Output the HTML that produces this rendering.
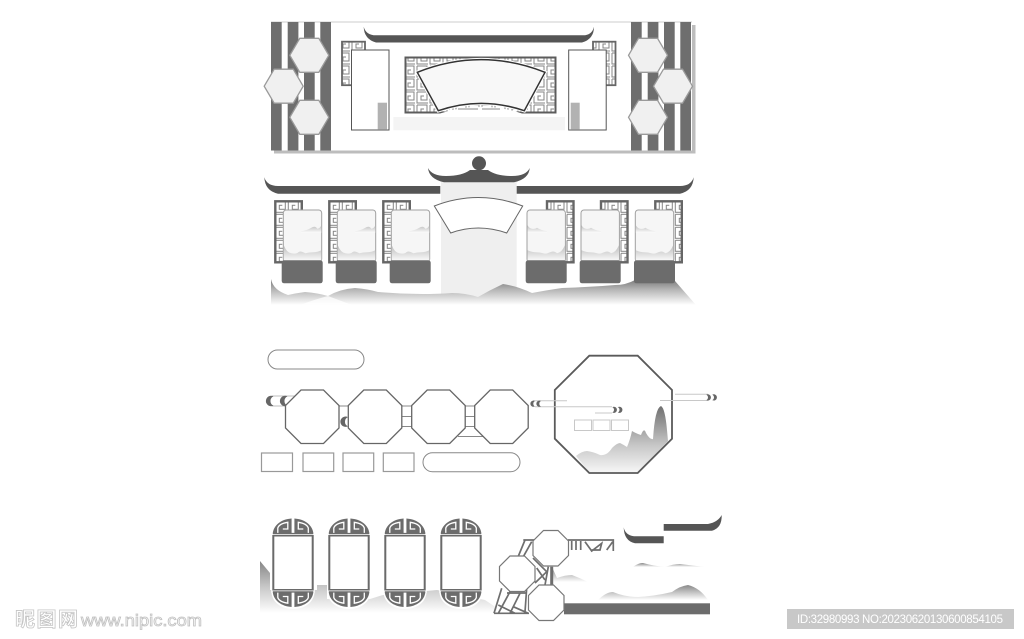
<!DOCTYPE html>
<html><head><meta charset="utf-8"><style>
html,body{margin:0;padding:0;background:#fff;width:1024px;height:639px;overflow:hidden}
svg{display:block}
</style></head><body>
<svg width="1024" height="639" viewBox="0 0 1024 639" xmlns="http://www.w3.org/2000/svg">
<defs>
<linearGradient id="m" x1="0" y1="0" x2="0" y2="1"><stop offset="0" stop-color="#777"/><stop offset=".4" stop-color="#b4b4b4"/><stop offset="1" stop-color="#fff"/></linearGradient>
<linearGradient id="m2" x1="0" y1="0" x2="0" y2="1"><stop offset="0" stop-color="#868686"/><stop offset=".5" stop-color="#c8c8c8"/><stop offset="1" stop-color="#fff"/></linearGradient>
<linearGradient id="m3" x1="0" y1="0" x2="0" y2="1"><stop offset="0" stop-color="#888"/><stop offset="1" stop-color="#fff"/></linearGradient>
<linearGradient id="peak" x1="0" y1="0" x2="0" y2="1"><stop offset="0" stop-color="#707070"/><stop offset=".6" stop-color="#c8c8c8"/><stop offset="1" stop-color="#f6f6f6"/></linearGradient>
<linearGradient id="snow" x1="0" y1="0" x2="0" y2="1"><stop offset="0" stop-color="#bcbcbc"/><stop offset="1" stop-color="#fcfcfc"/></linearGradient>
<pattern id="lat" width="13" height="13" patternUnits="userSpaceOnUse">
<rect width="13" height="13" fill="#fff"/>
<path d="M1 1H11V9H5V5H8M1 1V12H12" fill="none" stroke="#858585" stroke-width="1"/>
</pattern>
<polygon id="hex" points="-19.500,0 -9.500,-17 9.500,-17 19.500,0 9.500,17 -9.500,17" fill="#f0f0f0" stroke="#9a9a9a" stroke-width="1.300"/>
<g id="card">
<rect x="1" y="1" width="26.500" height="61" fill="url(#lat)" stroke="#666" stroke-width="2.400"/>
<rect x="9" y="9.700" width="38.400" height="52" rx="3" fill="#f6f6f6" stroke="#a0a0a0" stroke-width="1"/>
<path d="M27 31Q33 30 37 27.500T43 28.500Q46 28 47 25V32.500H27z" fill="url(#snow)"/>
<path d="M9.500 45Q12 52 17 53T24 52T31 53Q35 52 39 52T47 50V61H9.500z" fill="url(#snow)"/>
<rect x="7.400" y="60" width="41" height="23" rx="2.500" fill="#6c6c6c"/>
</g>
<g id="card2">
<rect x="20" y="1" width="26.500" height="61" fill="url(#lat)" stroke="#666" stroke-width="2.400"/>
<rect x="0" y="9.700" width="38.400" height="52" rx="3" fill="#f6f6f6" stroke="#a0a0a0" stroke-width="1"/>
<path d="M.5 25Q2 28 5 28.500T10 27.500Q14 30 20 31V32.500H.5z" fill="url(#snow)"/>
<path d="M.5 50Q5 52 9 52T16 53T23 52T30 53Q35 52 37.900 45V61H.5z" fill="url(#snow)"/>
<rect x="-1.300" y="60" width="41" height="23" rx="2.500" fill="#6c6c6c"/>
</g>
<polygon id="oct" points="15.500,0 38,0 53.500,15.500 53.500,38 38,53.500 15.500,53.500 0,38 0,15.500" fill="#fff" stroke="#666" stroke-width="1.300"/>
<polygon id="oct2" points="10.500,0 25,0 35.500,10.500 35.500,25 25,35.500 10.500,35.500 0,25 0,10.500" fill="#fff" stroke="#777" stroke-width="1.200"/>
<g id="cap">
<path d="M-1 17C-1 6 8 -1.500 20.700 -1.500S42.400 6 42.400 17z" fill="#fff"/>
<path d="M.5 15C1.500 7 9 1.200 19.300 .5V15z" fill="#6c6c6c"/>
<path d="M41 15C40 7 32.500 1.200 22.100 .5V15z" fill="#6c6c6c"/>
<path d="M5.500 15V10Q7 5.500 15.500 4.300V11H10.500" fill="none" stroke="#fff" stroke-width="1.300"/>
<path d="M36 15V10Q34.500 5.500 26 4.300V11H31" fill="none" stroke="#fff" stroke-width="1.300"/>
<path d="M.5 15.600H41" stroke="#6c6c6c" stroke-width="1.400"/>
</g>
<g id="arch">
<rect x="-1" y="15" width="43.400" height="60" fill="#fff"/>
<rect x="1" y="17.500" width="39.400" height="54.500" fill="#fff" stroke="#6a6a6a" stroke-width="2"/>
<use href="#cap"/>
<use href="#cap" transform="translate(0 89.500) scale(1 -1)"/>
</g>
<path id="cr" d="M3 .4A3.100 3.100 0 1 0 3 5.800A3 3 0 0 1 3 .4z" fill="#666"/>
<path id="crR" d="M.3 .4A3.100 3.100 0 1 1 .3 5.800A3 3 0 0 0 .3 .4z" fill="#666"/>
<path id="crB" d="M6 .6A5.200 5.200 0 1 0 6 9.800A5 5 0 0 1 6 .6z" fill="#666"/>
</defs>

<!-- TOP PANEL -->
<rect x="274" y="25" width="421.500" height="128.500" fill="#bdbdbd"/>
<rect x="271" y="22" width="421" height="128.500" fill="#fff"/>
<line x1="271" y1="22" x2="692" y2="22" stroke="#ccc" stroke-width="1"/>
<g fill="#6e6e6e">
<rect x="271" y="22" width="10.700" height="128.500"/><rect x="287.700" y="22" width="10.700" height="128.500"/><rect x="304" y="22" width="10.700" height="128.500"/><rect x="320.300" y="22" width="10.700" height="128.500"/>
<rect x="631" y="22" width="10.700" height="128.500"/><rect x="647.700" y="22" width="10.700" height="128.500"/><rect x="664" y="22" width="10.700" height="128.500"/><rect x="680.300" y="22" width="10.700" height="128.500"/>
</g>
<use href="#hex" x="309.300" y="55.300"/><use href="#hex" x="283.700" y="86.200"/><use href="#hex" x="309.300" y="117.300"/>
<use href="#hex" x="648" y="55.300"/><use href="#hex" x="673" y="86.200"/><use href="#hex" x="648" y="117.300"/>
<path d="M363.700 26.700Q366 35.300 376 35.300H583Q592 35.300 594 26.700Q594 39 582 42.500H376Q364 39 363.700 26.700z" fill="#555"/>
<rect x="342" y="41.700" width="23" height="43.500" fill="url(#lat)" stroke="#666" stroke-width="1.800"/>
<rect x="593" y="41.700" width="22.500" height="43.500" fill="url(#lat)" stroke="#666" stroke-width="1.800"/>
<rect x="351.500" y="50" width="37.500" height="80" fill="#fff" stroke="#555" stroke-width="1"/>
<rect x="568.700" y="50" width="37.500" height="80" fill="#fff" stroke="#555" stroke-width="1"/>
<rect x="377.700" y="102.700" width="9.300" height="27" fill="#b2b2b2"/>
<rect x="570.700" y="102.700" width="9" height="27" fill="#b2b2b2"/>
<rect x="393.300" y="117" width="171.700" height="13.300" fill="#f4f4f4"/>
<rect x="405.500" y="57.500" width="150" height="55" fill="url(#lat)" stroke="#5c5c5c" stroke-width="2"/>
<path d="M417.300 72.300Q481 47 545 72.300L524.300 110.700Q481 96 438.300 110.700z" fill="#fff" stroke="#fff" stroke-width="3.500"/>
<path d="M417.300 72.300Q481 47 545 72.300L524.300 110.700Q481 96 438.300 110.700z" fill="#f8f8f8" stroke="#333" stroke-width="1.500"/>
<path d="M440 113.500Q481 100 522 113.500z" fill="#fff"/>
<path d="M458 109H478M482 109H500" stroke="#888" stroke-width="1"/>

<!-- SECOND SECTION -->
<rect x="441" y="182" width="75.700" height="123" fill="#efefef"/>
<path d="M271 279Q273 290 288 295Q297 293 305 292Q318 293 328 296Q340 289 355 288Q368 289 378 292Q400 294 422 294Q438 294 452 293Q465 293 478 297Q490 290 503 284Q517 286 532 293Q548 290 562 288Q590 287 615 285Q626 285 635 280L675 281L696 305H271z" fill="url(#m)"/>
<path d="M328 296L352 305H300Q316 299 328 296z" fill="#fff" opacity=".75"/>
<circle cx="479" cy="163.300" r="7" fill="#555"/>
<path d="M428 168Q432 176 446 176Q462 176 470 170H488Q496 176 512 176Q526 176 529.700 168Q529 179 514 182.300H444Q429 179 428 168z" fill="#555"/>
<path d="M264.300 177.300Q267 186 278 186H440.300V193.700H278Q265 191 264.300 177.300z" fill="#555"/>
<path d="M693.700 177.300Q691 186 680 186H516.700V193.700H680Q693 191 693.700 177.300z" fill="#555"/>
<path d="M434.300 206Q478 189 522.700 206L506.700 233Q478 223 450.700 233z" fill="#fff" stroke="#666" stroke-width="1"/>
<use href="#card" x="274.300" y="200.300"/><use href="#card" x="328.300" y="200.300"/><use href="#card" x="382.300" y="200.300"/>
<use href="#card2" x="527" y="200.300"/><use href="#card2" x="581" y="200.300"/><use href="#card2" x="635.300" y="200.300"/>

<!-- THIRD SECTION -->
<rect x="268" y="350" width="96" height="19" rx="9.500" fill="#fff" stroke="#888" stroke-width="1"/>
<rect x="423" y="452.700" width="97" height="19" rx="9.500" fill="#fff" stroke="#888" stroke-width="1"/>
<g fill="#fff" stroke="#999" stroke-width="1.200">
<rect x="261.500" y="453" width="31" height="18.500"/><rect x="303" y="453" width="30.700" height="18.500"/><rect x="343" y="453" width="30.700" height="18.500"/><rect x="383.300" y="453" width="30.700" height="18.500"/>
</g>
<path d="M272 396H295M272 406H295" stroke="#aaa" stroke-width=".8"/>
<use href="#crB" x="267.500" y="395.800"/><use href="#crB" x="281.500" y="395.800"/><use href="#crB" x="342" y="416.500"/>
<g fill="none" stroke="#888" stroke-width="1">
<path d="M338 406H349M401 406H412M401 416.500H412M401 426.500H412M401 406V427M412 406V427"/>
<path d="M465 406H475M465 416.500H475M465 426.500H475M465 406V427M475 406V427M458 436.500H485"/>
</g>
<use href="#oct" x="285.500" y="390"/><use href="#oct" x="348.300" y="390"/><use href="#oct" x="411.700" y="390"/><use href="#oct" x="474.700" y="390"/>
<path d="M555.500 390V438L589.500 472.300H637.700L671.500 438V390L637.700 356H589.500z" fill="#fff"/>
<path d="M576 456Q582 451 587 451Q594 452 600 455Q607 456 612 448Q617 443 620 443Q624 445 627 447Q630 440 632 431Q637 434 641 435Q644 427 646 433Q650 440 653 439Q655 408 661 406Q665 408 667 430L668 441L637.700 472.300H589.500z" fill="url(#peak)"/>
<polygon points="589.300,355.700 637.700,355.700 672,390 672,438.700 637.700,473 589.300,473 554.800,438.700 554.800,390" fill="none" stroke="#5a5a5a" stroke-width="1.800"/>
<g fill="none" stroke="#c8c8c8" stroke-width="1">
<path d="M533 400.800H567M535 406.800H612M595 413H612M675 394.300H708M660 400.500H708"/>
<rect x="574.500" y="420" width="17" height="10.500"/><rect x="593" y="420" width="17" height="10.500"/><rect x="611.500" y="420" width="17" height="10.500"/>
</g>
<use href="#cr" x="532" y="400.600"/><use href="#cr" x="538" y="400.600"/>
<use href="#crR" x="612" y="406.700"/><use href="#crR" x="617.500" y="406.700"/>
<use href="#crR" x="706" y="394.300"/><use href="#crR" x="712" y="394.300"/>

<!-- FOURTH SECTION -->
<path d="M260 561L270 573V590H317V585H327V599H370L383 595L437 590L485 600L497 608V613H260z" fill="url(#m2)"/>
<use href="#arch" x="272.300" y="518"/><use href="#arch" x="328.300" y="518"/><use href="#arch" x="384.300" y="518"/><use href="#arch" x="440.300" y="518"/>
<path d="M552 567L557 578Q565 575 572 575Q580 578 588 582H552z" fill="url(#m3)"/>
<path d="M633 567Q638 563 643 563Q654 566 665 567Q673 564 680 564L705 567z" fill="url(#m3)"/>
<path d="M598 600Q606 592 613 592Q625 597 638 597Q655 596 672 592Q680 586 688 585Q700 588 708 600z" fill="url(#m3)"/>
<rect x="564" y="603.300" width="146" height="11" fill="#6c6c6c"/>
<path d="M663.700 524H708Q718 522 721.700 515Q722 528 712 530.700H663.700z" fill="#555"/>
<path d="M623.700 527.300Q625 535 634 536.300H663.700V543.300H635Q624 541 623.700 527.300z" fill="#555"/>
<g fill="none" stroke="#6e6e6e" stroke-width="1.700">
<path d="M568 540H613.300V551M571.700 541V550M576 541V550M580.700 541V550M585 541.700L591.700 551L601.700 543.300L600 550H591.700M606.700 550L612.700 541.700"/>
<path d="M523.300 540H535M525 540L518 557M531.700 541.700L523.300 556.700M533 558L546.700 571.700L535 583M536.700 568L545 580M545 585L548.300 566.700"/>
<path d="M551.700 566.700V585" stroke-width="3"/>
<path d="M494 613.300H529M501.700 588.300L494 613.300M510 591.700L498.300 613.300M520 593.300L510 613.300M526.700 588L525 612M498.300 605L515 613.300M513.300 606.700L528.300 613.300M507 593H527"/>
</g>
<use href="#oct2" x="533" y="530.500"/><use href="#oct2" x="499.500" y="556"/><use href="#oct2" transform="translate(528.500 585)"/>

<!-- WATERMARKS -->
<text x="15" y="626" font-family="'Liberation Sans','Noto Sans CJK SC',sans-serif" font-size="20" font-weight="700" fill="#fff" stroke="#c4c4c4" stroke-width=".8" textLength="63">昵图网</text>
<text x="81" y="626" font-family="'Liberation Sans',sans-serif" font-size="17" fill="#fff" stroke="#c0c0c0" stroke-width=".8" textLength="121" lengthAdjust="spacingAndGlyphs">www.nipic.com</text>
<rect x="787" y="609" width="227" height="20" fill="#c8c8c8"/>
<text x="797" y="623" font-family="'Liberation Sans',sans-serif" font-size="11.500" fill="#fff" textLength="206">ID:32980993 NO:20230620130600854105</text>
</svg>
</body></html>
